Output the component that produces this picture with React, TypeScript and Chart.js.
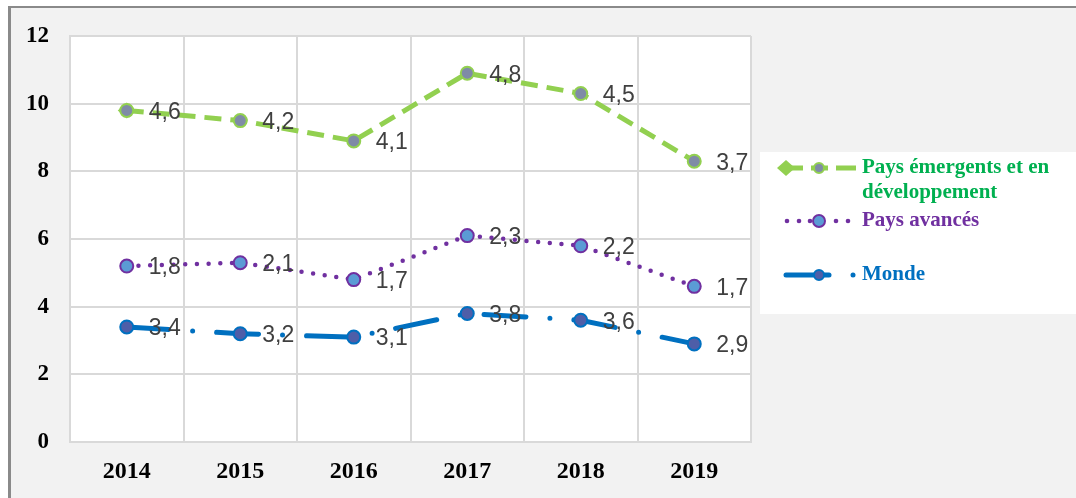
import React, { useEffect, useRef } from "react";
import { Chart, registerables } from "chart.js";

Chart.register(...registerables);

const years = ["2014", "2015", "2016", "2017", "2018", "2019"];
const emergingPos = [9.8, 9.5, 8.9, 10.9, 10.3, 8.3];
const emergingLabels = ["4,6", "4,2", "4,1", "4,8", "4,5", "3,7"];
const advancedPos = [5.2, 5.3, 4.8, 6.1, 5.8, 4.6];
const advancedLabels = ["1,8", "2,1", "1,7", "2,3", "2,2", "1,7"];
const worldPos = [3.4, 3.2, 3.1, 3.8, 3.6, 2.9];
const worldLabels = ["3,4", "3,2", "3,1", "3,8", "3,6", "2,9"];
const yMin = 0;
const yMax = 12;
const yStep = 2;
const emergingName = ["Pays émergents et en", "développement"];
const advancedName = ["Pays avancés"];
const worldName = ["Monde"];

const GREEN = "#92d050";
const PURPLE = "#7030a0";
const BLUE = "#0070c0";
const SERIF = "'Liberation Serif', 'Times New Roman', serif";
const SANS = "'Liberation Sans', Arial, sans-serif";

const labelSets = [emergingLabels, advancedLabels, worldLabels];

const bgPlugin = {
  id: "bgPlugin",
  beforeDraw(chart: any) {
    const { ctx, width, height, chartArea } = chart;
    ctx.save();
    ctx.fillStyle = "#ffffff";
    ctx.fillRect(0, 0, width, height);
    ctx.fillStyle = "#f2f2f2";
    ctx.fillRect(9, 7, width - 9, height - 7);
    ctx.strokeStyle = "#8a8a8a";
    ctx.lineWidth = 2;
    ctx.beginPath();
    ctx.moveTo(8, 7);
    ctx.lineTo(width, 7);
    ctx.stroke();
    ctx.lineWidth = 3;
    ctx.beginPath();
    ctx.moveTo(9.5, 7);
    ctx.lineTo(9.5, height);
    ctx.stroke();
    ctx.fillStyle = "#ffffff";
    ctx.fillRect(chartArea.left, chartArea.top, chartArea.right - chartArea.left, chartArea.bottom - chartArea.top);
    ctx.restore();
  },
  beforeDatasetsDraw(chart: any) {
    // diamond at the start of the green line
    const meta = chart.getDatasetMeta(0);
    const p = meta.data[0];
    if (!p) return;
    const ctx = chart.ctx;
    ctx.save();
    ctx.fillStyle = GREEN;
    ctx.beginPath();
    ctx.moveTo(p.x - 9, p.y);
    ctx.lineTo(p.x, p.y - 8);
    ctx.lineTo(p.x + 9, p.y);
    ctx.lineTo(p.x, p.y + 8);
    ctx.closePath();
    ctx.fill();
    ctx.restore();
  },
};

const labelPlugin = {
  id: "labelPlugin",
  afterDatasetsDraw(chart: any) {
    const ctx = chart.ctx;
    ctx.save();
    ctx.font = `23px ${SANS}`;
    ctx.fillStyle = "#404040";
    ctx.textAlign = "left";
    ctx.textBaseline = "middle";
    chart.data.datasets.forEach((ds: any, i: number) => {
      const meta = chart.getDatasetMeta(i);
      meta.data.forEach((pt: any, j: number) => {
        ctx.fillText(labelSets[i][j], pt.x + 22, pt.y + 2);
      });
    });
    ctx.restore();
  },
};

function circle(ctx: any, x: number, y: number, r: number, fill: string, stroke: string) {
  ctx.beginPath();
  ctx.arc(x, y, r, 0, Math.PI * 2);
  ctx.fillStyle = fill;
  ctx.fill();
  ctx.lineWidth = 2;
  ctx.strokeStyle = stroke;
  ctx.setLineDash([]);
  ctx.stroke();
}

const legendPlugin = {
  id: "legendPlugin",
  afterDraw(chart: any) {
    const ctx = chart.ctx;
    const bx = 760;
    const by = 152;
    ctx.save();
    ctx.fillStyle = "#ffffff";
    ctx.fillRect(bx, by, 1076 - bx, 162);

    const tx = 862;
    // green
    let y = 168;
    ctx.fillStyle = GREEN;
    ctx.beginPath();
    ctx.moveTo(777, y);
    ctx.lineTo(786, y - 8);
    ctx.lineTo(795, y);
    ctx.lineTo(786, y + 8);
    ctx.closePath();
    ctx.fill();
    ctx.strokeStyle = GREEN;
    ctx.lineWidth = 5;
    ctx.lineCap = "butt";
    ctx.beginPath();
    ctx.moveTo(786, y);
    ctx.lineTo(803, y);
    ctx.moveTo(811, y);
    ctx.lineTo(828, y);
    ctx.moveTo(836, y);
    ctx.lineTo(856, y);
    ctx.stroke();
    circle(ctx, 819, y, 5, "#7f8ba6", GREEN);

    // purple
    y = 221;
    ctx.fillStyle = PURPLE;
    [787, 799, 810, 836, 848].forEach((x) => {
      ctx.beginPath();
      ctx.arc(x, y, 2.3, 0, Math.PI * 2);
      ctx.fill();
    });
    circle(ctx, 819, y, 6, "#5b9bd5", PURPLE);

    // blue
    y = 275;
    ctx.strokeStyle = BLUE;
    ctx.lineWidth = 5;
    ctx.lineCap = "round";
    ctx.beginPath();
    ctx.moveTo(786, y);
    ctx.lineTo(829, y);
    ctx.stroke();
    ctx.fillStyle = BLUE;
    ctx.beginPath();
    ctx.arc(853, y, 2.5, 0, Math.PI * 2);
    ctx.fill();
    circle(ctx, 819, y, 5, "#4e5ea8", BLUE);

    ctx.font = `bold 21px ${SERIF}`;
    ctx.textAlign = "left";
    ctx.textBaseline = "middle";
    ctx.fillStyle = "#00b050";
    emergingName.forEach((t, k) => ctx.fillText(t, tx, 168 + k * 25));
    ctx.fillStyle = PURPLE;
    advancedName.forEach((t, k) => ctx.fillText(t, tx, 221 + k * 25));
    ctx.fillStyle = BLUE;
    worldName.forEach((t, k) => ctx.fillText(t, tx, 275 + k * 25));
    ctx.restore();
  },
};

export default function App() {
  const ref = useRef<HTMLCanvasElement | null>(null);
  useEffect(() => {
    if (!ref.current) return;
    const chart = new Chart(ref.current, {
      type: "line",
      data: {
        labels: years,
        datasets: [
          {
            label: emergingName.join(" "),
            data: emergingPos,
            borderColor: GREEN,
            borderWidth: 5,
            borderDash: [17, 9],
            borderCapStyle: "butt",
            pointRadius: 6.5,
            pointBackgroundColor: "#7f8ba6",
            pointBorderColor: GREEN,
            pointBorderWidth: 2,
            tension: 0,
          },
          {
            label: advancedName.join(" "),
            data: advancedPos,
            borderColor: PURPLE,
            borderWidth: 4.5,
            borderDash: [0, 11.7],
            borderCapStyle: "round",
            pointRadius: 6.5,
            pointBackgroundColor: "#5b9bd5",
            pointBorderColor: PURPLE,
            pointBorderWidth: 2,
            tension: 0,
          },
          {
            label: worldName.join(" "),
            data: worldPos,
            borderColor: BLUE,
            borderWidth: 5,
            borderDash: [42, 24, 0, 24],
            borderCapStyle: "round",
            pointRadius: 6.5,
            pointBackgroundColor: "#4e5ea8",
            pointBorderColor: BLUE,
            pointBorderWidth: 2,
            tension: 0,
          },
        ],
      },
      options: {
        animation: false,
        responsive: false,
        maintainAspectRatio: false,
        layout: { padding: { left: 0, top: 36, right: 325, bottom: 0 } },
        plugins: { legend: { display: false }, tooltip: { enabled: false } },
        scales: {
          x: {
            offset: true,
            grid: { offset: true, color: "#d9d9d9", lineWidth: 2, drawTicks: false },
            border: { color: "#d9d9d9", width: 2 },
            ticks: {
              padding: 15,
              color: "#000000",
              font: { family: SERIF, size: 24, weight: "bold" },
            },
            afterFit(scale: any) {
              scale.height = 56;
            },
          },
          y: {
            min: yMin,
            max: yMax,
            grid: { color: "#d9d9d9", lineWidth: 2, drawTicks: false },
            border: { color: "#d9d9d9", width: 2 },
            ticks: {
              stepSize: yStep,
              padding: 21,
              color: "#000000",
              font: { family: SERIF, size: 23, weight: "bold" },
            },
            afterFit(scale: any) {
              scale.width = 70;
            },
          },
        },
      },
      plugins: [bgPlugin, labelPlugin, legendPlugin],
    } as any);
    return () => chart.destroy();
  }, []);
  return (
    <div style={{ position: "fixed", left: 0, top: 0, width: 1076, height: 498 }}>
      <canvas ref={ref} width={1076} height={498} style={{ display: "block", width: 1076, height: 498 }} />
    </div>
  );
}
